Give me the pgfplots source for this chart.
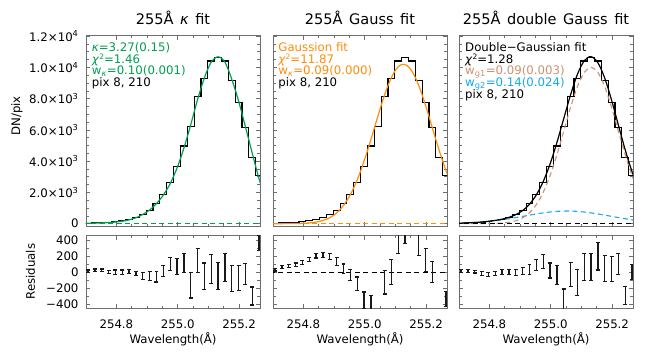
\documentclass[border=0pt]{standalone}
\usepackage{fontspec}
\setmainfont{DejaVu Sans}
\usepackage{pgfplots}
\usepackage{pgfplotstable}
\pgfplotsset{compat=1.18}

\definecolor{kgreen}{RGB}{0,158,80}
\definecolor{gorange}{RGB}{255,140,10}
\definecolor{gbrown}{RGB}{205,145,110}
\definecolor{gblue}{RGB}{20,170,235}
\definecolor{ebar}{RGB}{25,25,25}
\definecolor{framec}{RGB}{110,110,110}

\newcommand{\ws}{\hspace{0.45em}}
\newcommand{\fs}{\fontsize{11.8}{13}\selectfont}
\newcommand{\chisq}{\textit{χ}\raisebox{0.33em}{\fontsize{7.5}{7.5}\selectfont 2}}

% observed spectrum (DN/pix)
\pgfplotstableread{
x y
254.6855 28
254.7078 35
254.7301 58
254.7524 72
254.7747 92
254.7970 130
254.8193 185
254.8415 270
254.8638 400
254.8861 590
254.9084 840
254.9307 1270
254.9530 1840
254.9753 2650
254.9976 3680
255.0199 4970
255.0422 6240
255.0645 8130
255.0868 9310
255.1090 10410
255.1313 10660
255.1536 10410
255.1759 9140
255.1982 7770
255.2205 6180
255.2428 4230
255.2651 3110
255.2874 2200
}\hist

% kappa fit
\pgfplotstableread{
x y
254.6855 24
254.7078 30
254.7301 39
254.7524 52
254.7747 72
254.7970 105
254.8193 158
254.8415 242
254.8638 380
254.8861 590
254.9084 875
254.9307 1290
254.9530 1830
254.9753 2560
254.9976 3560
255.0199 4830
255.0422 6330
255.0645 7940
255.0868 9330
255.1090 10340
255.1313 10680
255.1536 10340
255.1759 9250
255.1982 7850
255.2205 6200
255.2428 4500
255.2651 2860
255.2874 1500
}\kfit

% Gaussian fit
\pgfplotstableread{
x y
254.6855 0
254.7078 1
254.7301 1
254.7524 4
254.7747 9
254.7970 21
254.8193 48
254.8415 102
254.8638 204
254.8750 282
254.8861 385
254.8973 519
254.9084 690
254.9196 903
254.9307 1165
254.9419 1482
254.9530 1860
254.9642 2299
254.9753 2805
254.9865 3371
254.9976 3996
255.0088 4670
255.0199 5381
255.0311 6113
255.0422 6847
255.0534 7560
255.0645 8231
255.0757 8836
255.0868 9352
255.0979 9758
255.1090 10039
255.1202 10182
255.1313 10182
255.1425 10039
255.1536 9758
255.1648 9352
255.1759 8836
255.1871 8231
255.1982 7560
255.2094 6847
255.2205 6113
255.2317 5381
255.2428 4670
255.2540 3996
255.2651 3371
255.2874 2299
}\gfit

% double Gaussian fit: total, narrow (g1), broad (g2)
\pgfplotstableread{
x tot g1 g2
254.6855 24 0 24
254.7078 36 0 36
254.7301 53 0 53
254.7524 77 1 76
254.7747 108 2 106
254.7970 151 6 145
254.8193 209 16 193
254.8415 289 39 250
254.8638 404 88 316
254.8861 577 187 390
254.9084 841 374 467
254.9307 1244 697 547
254.9530 1842 1220 622
254.9753 2688 1997 691
254.9976 3810 3063 747
255.0199 5183 4396 787
255.0422 6717 5910 807
255.0645 8245 7438 807
255.0868 9555 8768 787
255.1090 10424 9677 747
255.1313 10691 10000 691
255.1536 10299 9677 622
255.1759 9315 8768 547
255.1982 7905 7438 467
255.2205 6300 5910 390
255.2428 4712 4396 316
255.2651 3313 3063 250
255.2874 2190 1997 193
}\dfit

% residuals: kappa fit
\pgfplotstableread{
x y e
254.7078 10 15
254.7301 21 17
254.7524 21 17
254.7747 0 20
254.7970 0 25
254.8193 0 25
254.8415 6 27
254.8638 -17 29
254.8861 -45 45
254.9084 -52 56
254.9307 -56 68
254.9530 14 68
254.9753 103 83
254.9976 72 97
255.0199 118 118
255.0422 -161 161
255.0645 147 151
255.0868 -54 166
255.1090 39 176
255.1313 -48 172
255.1536 60 176
255.1759 -77 164
255.1982 -77 155
255.2205 -27 130
255.2428 -298 112
255.2651 364 95
}\resk

% residuals: Gaussian fit
\pgfplotstableread{
x y e
254.7078 31 17
254.7301 62 19
254.7524 75 20
254.7747 91 21
254.7970 124 25
254.8193 157 25
254.8415 205 29
254.8638 215 29
254.8861 190 38
254.9084 135 48
254.9307 43 57
254.9530 -39 68
254.9753 -147 85
254.9976 -348 100
255.0199 -412 118
255.0422 -640 135
255.0645 -126 147
255.0868 -2 155
255.1090 406 170
255.1313 524 172
255.1536 680 172
255.1759 367 160
255.1982 153 145
255.2205 2 130
255.2428 -640 112
255.2651 -333 95
}\resg

% residuals: double Gaussian fit
\pgfplotstableread{
x y e
254.7078 12 17
254.7301 12 17
254.7524 6 18
254.7747 -17 21
254.7970 -27 27
254.8193 -19 27
254.8415 0 29
254.8638 -2 31
254.8861 -2 39
254.9084 12 46
254.9307 33 58
254.9530 87 66
254.9753 128 87
254.9976 19 93
255.0199 -37 120
255.0422 -343 132
255.0645 -27 151
255.0868 -132 161
255.1090 66 170
255.1313 64 170
255.1536 199 174
255.1759 46 161
255.1982 39 155
255.2205 101 126
255.2428 -295 112
255.2651 2 97
}\resd

\pgfplotsset{
 panel/.style={
   scale only axis, width=174bp,
   xmin=254.701, xmax=255.268,
   xtick={254.8,255.0,255.2}, minor x tick num=3,
   scaled y ticks=false, scaled x ticks=false,
   axis line style={framec, line width=0.8pt},
   every tick/.style={framec, line width=0.7pt},
   major tick length=4.5bp, minor tick length=2.6bp,
   tick align=inside,
   tick label style={font=\fs},
   title style={font=\fontsize{14.6}{16}\selectfont, at={(0.5,1)}, anchor=base, yshift=5.7bp},
   yticklabel style={xshift=-4bp},
   xticklabel style={anchor=base, yshift=-20bp},
 },
 toppanel/.style={panel, height=191.1bp, ymin=-200, ymax=12030,
   ytick={0,2000,4000,6000,8000,10000,12000}, minor y tick num=3, xticklabels={}},
 botpanel/.style={panel, height=73.2bp, ymin=-450, ymax=460,
   ytick={-400,-200,0,200,400}, minor y tick num=1,
   xticklabels={254.8,255.0,255.2},
   xlabel={Wavelength(Å)},
   every axis x label/.style={at={(axis description cs:0.5,0)}, anchor=base, yshift=-35bp, font=\fs}},
 hist/.style={black, line width=1.15pt, const plot mark mid},
 zero/.style={line width=1.1pt, dash pattern=on 5bp off 3.5bp},
 res/.style={draw=none, mark=none, error bars/.cd, y dir=both, y explicit,
   error bar style={draw=ebar, line width=1.3pt},
   error mark options={rotate=90, draw=ebar, line width=1.2pt, mark size=2pt}},
}

\begin{document}
\begin{tikzpicture}
\useasboundingbox (0,0) rectangle (664bp,363bp);

% ---------- top left: kappa fit
\begin{axis}[toppanel, at={(86bp,136.2bp)}, anchor=south west,
  title={255Å\ws\textit{κ}\ws fit},
  yticklabels={0,2.0×10\textsuperscript{3},4.0×10\textsuperscript{3},6.0×10\textsuperscript{3},8.0×10\textsuperscript{3},1.0×10\textsuperscript{4},1.2×10\textsuperscript{4}},
  ylabel={DN/pix},
  every axis y label/.style={at={(axis description cs:-0.397,0.58)}, rotate=90, anchor=center, font=\fs}]
\addplot[hist] table[x=x,y=y] {\hist};
\addplot[kgreen, line width=1.2pt, smooth] table[x=x,y=y] {\kfit};
\addplot[kgreen, zero] coordinates {(254.69,0) (255.28,0)};
\node[anchor=base west, inner sep=0, text=kgreen, font=\fs, yshift=-16bp] at (rel axis cs:0.033,1) {\textit{κ}=3.27(0.15)};
\node[anchor=base west, inner sep=0, text=kgreen, font=\fs, yshift=-27.6bp] at (rel axis cs:0.033,1) {\chisq=1.46};
\node[anchor=base west, inner sep=0, text=kgreen, font=\fs, yshift=-39.2bp] at (rel axis cs:0.033,1) {w\textsubscript{\textit{κ}}=0.10(0.001)};
\node[anchor=base west, inner sep=0, text=black, font=\fs, yshift=-50.8bp] at (rel axis cs:0.033,1) {pix 8, 210};
\end{axis}

% ---------- top middle: Gauss fit
\begin{axis}[toppanel, at={(273bp,136.2bp)}, anchor=south west,
  title={255Å\ws Gauss\ws fit}, yticklabels={}]
\addplot[hist] table[x=x,y=y] {\hist};
\addplot[gorange, line width=1.2pt, smooth] table[x=x,y=y] {\gfit};
\addplot[gorange, zero] coordinates {(254.69,0) (255.28,0)};
\node[anchor=base west, inner sep=0, text=gorange, font=\fs, yshift=-16bp] at (rel axis cs:0.030,1) {Gaussion fit};
\node[anchor=base west, inner sep=0, text=gorange, font=\fs, yshift=-27.6bp] at (rel axis cs:0.030,1) {\chisq=11.87};
\node[anchor=base west, inner sep=0, text=gorange, font=\fs, yshift=-39.2bp] at (rel axis cs:0.030,1) {w\textsubscript{\textit{κ}}=0.09(0.000)};
\node[anchor=base west, inner sep=0, text=black, font=\fs, yshift=-50.8bp] at (rel axis cs:0.030,1) {pix 8, 210};
\end{axis}

% ---------- top right: double Gauss fit
\begin{axis}[toppanel, at={(459bp,136.2bp)}, anchor=south west,
  title={255Å\ws double\ws Gauss\ws fit}, yticklabels={}]
\addplot[hist] table[x=x,y=y] {\hist};
\addplot[gblue, zero, smooth] table[x=x,y=g2] {\dfit};
\addplot[gbrown, zero, smooth] table[x=x,y=g1] {\dfit};
\addplot[black, line width=1.2pt, smooth] table[x=x,y=tot] {\dfit};
\addplot[black, zero] coordinates {(254.69,0) (255.28,0)};
\node[anchor=base west, inner sep=0, text=black, font=\fs, yshift=-16bp] at (rel axis cs:0.0345,1) {Double−Gaussian fit};
\node[anchor=base west, inner sep=0, text=black, font=\fs, yshift=-27.6bp] at (rel axis cs:0.0345,1) {\chisq=1.28};
\node[anchor=base west, inner sep=0, text=gbrown, font=\fs, yshift=-39.2bp] at (rel axis cs:0.0345,1) {w\textsubscript{g1}=0.09(0.003)};
\node[anchor=base west, inner sep=0, text=gblue, font=\fs, yshift=-50.8bp] at (rel axis cs:0.0345,1) {w\textsubscript{g2}=0.14(0.024)};
\node[anchor=base west, inner sep=0, text=black, font=\fs, yshift=-62.4bp] at (rel axis cs:0.0345,1) {pix 8, 210};
\end{axis}

% ---------- residuals
\begin{axis}[botpanel, at={(86bp,54.7bp)}, anchor=south west,
  yticklabels={−400,−200,0,200,400},
  ylabel={Residuals},
  every axis y label/.style={at={(axis description cs:-0.319,0.5)}, rotate=90, anchor=center, font=\fs}]
\addplot[res] table[x=x,y=y,y error=e] {\resk};
\end{axis}

\begin{axis}[botpanel, at={(273bp,54.7bp)}, anchor=south west, yticklabels={}]
\addplot[black, zero] coordinates {(254.69,0) (255.28,0)};
\addplot[res] table[x=x,y=y,y error=e] {\resg};
\end{axis}

\begin{axis}[botpanel, at={(459bp,54.7bp)}, anchor=south west, yticklabels={}]
\addplot[res] table[x=x,y=y,y error=e] {\resd};
\end{axis}

\end{tikzpicture}
\end{document}
